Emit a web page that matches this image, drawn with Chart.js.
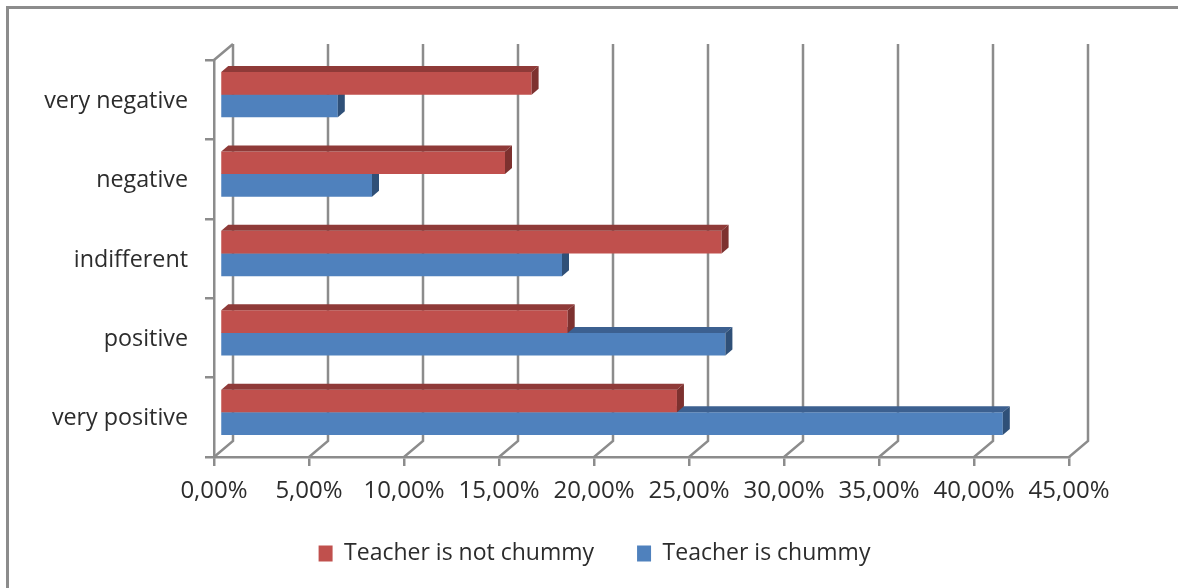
<!DOCTYPE html>
<html>
<head>
<meta charset="utf-8">
<style>
html, body { margin: 0; padding: 0; background: #fff; overflow: hidden; }
#frame { position: absolute; left: 6px; top: 6px; width: 1172px; height: 582px; border-left: 3px solid #8c8c8c; border-top: 3px solid #8c8c8c; box-sizing: border-box; }
canvas { position: absolute; left: 0; top: 0; }
</style>
<script src="https://cdn.jsdelivr.net/npm/chart.js@4"></script>
</head>
<body>
<div id="frame"></div>
<canvas id="chart" width="1178" height="588"></canvas>
<script>
const categories = ['very negative', 'negative', 'indifferent', 'positive', 'very positive'];
const notChummy = [16.4, 15.0, 26.4, 18.3, 24.05];
const chummy = [6.2, 8.0, 18.0, 26.6, 41.2];
const xTickLabels = ['0,00%', '5,00%', '10,00%', '15,00%', '20,00%', '25,00%', '30,00%', '35,00%', '40,00%', '45,00%'];

const axisColor = '#8c8c8c';
const textColor = '#2c2c2c';
const fontFamily = '"Open Sans", "Noto Sans", sans-serif';

// darker faces of the fake 3d bars
const faces = [
    { top: '#8f3a38', side: '#7d312f' },
    { top: '#3c6090', side: '#2f5078' }
];

// back wall of the chart: grid lines sit up and to the right of the axis
const wallPlugin = {
    id: 'wall',
    beforeDatasetsDraw(chart) {
        const { ctx, chartArea, scales } = chart;
        const dx = 19, dy = 16;
        ctx.save();
        ctx.strokeStyle = axisColor;
        ctx.lineWidth = 2.5;
        scales.x.ticks.forEach((t, i) => {
            const x = scales.x.getPixelForTick(i);
            ctx.beginPath();
            ctx.moveTo(x, chartArea.bottom);
            ctx.lineTo(x + dx, chartArea.bottom - dy);
            ctx.lineTo(x + dx, chartArea.top - dy);
            ctx.stroke();
        });
        ctx.beginPath();
        ctx.moveTo(chartArea.left, chartArea.top);
        ctx.lineTo(chartArea.left + dx, chartArea.top - dy);
        ctx.stroke();
        ctx.restore();
    }
};

// bars stand in the middle of the depth, so move them off the axis and add top + end faces
const depthPlugin = {
    id: 'depth',
    beforeDatasetDraw(chart) {
        chart.ctx.save();
        chart.ctx.translate(6, -5);
    },
    afterDatasetDraw(chart, args) {
        const { ctx } = chart;
        const dx = 7, dy = 6;
        const face = faces[args.index];
        args.meta.data.forEach(bar => {
            const top = bar.y - bar.height / 2;
            const bottom = bar.y + bar.height / 2;
            ctx.fillStyle = face.top;
            ctx.beginPath();
            ctx.moveTo(bar.base, top);
            ctx.lineTo(bar.base + dx, top - dy);
            ctx.lineTo(bar.x + dx, top - dy);
            ctx.lineTo(bar.x, top);
            ctx.closePath();
            ctx.fill();
            ctx.fillStyle = face.side;
            ctx.beginPath();
            ctx.moveTo(bar.x, top);
            ctx.lineTo(bar.x + dx, top - dy);
            ctx.lineTo(bar.x + dx, bottom - dy);
            ctx.lineTo(bar.x, bottom);
            ctx.closePath();
            ctx.fill();
        });
        ctx.restore();
    }
};

// legend is not centred on the canvas in the original
const legendShift = {
    id: 'legendShift',
    afterLayout(chart) {
        chart.legend.left += 60;
        chart.legend.right += 60;
        chart.legend.top -= 13;
        chart.legend.bottom -= 13;
    }
};

new Chart(document.getElementById('chart').getContext('2d'), {
    type: 'bar',
    data: {
        labels: categories,
        datasets: [{
            label: 'Teacher is not chummy',
            data: notChummy,
            backgroundColor: '#c0504d',
            categoryPercentage: 0.57,
            barPercentage: 1,
            clip: false
        }, {
            label: 'Teacher is chummy',
            data: chummy,
            backgroundColor: '#4f81bd',
            categoryPercentage: 0.57,
            barPercentage: 1,
            clip: false
        }]
    },
    options: {
        indexAxis: 'y',
        responsive: false,
        animation: false,
        layout: {
            padding: { left: 0, right: 109, top: 60, bottom: 0 }
        },
        scales: {
            x: {
                min: 0,
                max: 45,
                afterFit: s => { s.height = 55; },
                afterBuildTicks: s => { s.ticks = xTickLabels.map((_, i) => ({ value: i * 5 })); },
                ticks: {
                    callback: (v, i) => xTickLabels[i],
                    color: textColor,
                    font: { family: fontFamily, size: 24 },
                    padding: 11,
                    maxRotation: 0,
                    autoSkip: false
                },
                border: { color: axisColor, width: 2.5 },
                grid: { drawOnChartArea: false, color: axisColor, lineWidth: 2.5, tickLength: 9 }
            },
            y: {
                afterFit: s => { s.width = 214; },
                ticks: {
                    color: textColor,
                    font: { family: fontFamily, size: 23.3 },
                    padding: 17,
                    labelOffset: 1.5
                },
                border: { color: axisColor, width: 2.5 },
                grid: { drawOnChartArea: false, color: axisColor, lineWidth: 2.5, tickLength: 9 }
            }
        },
        plugins: {
            legend: {
                position: 'bottom',
                labels: {
                    color: textColor,
                    font: { family: fontFamily, size: 23 },
                    boxWidth: 14,
                    boxHeight: 16,
                    padding: 43
                }
            },
            tooltip: { enabled: false }
        }
    },
    plugins: [wallPlugin, depthPlugin, legendShift]
});
</script>
</body>
</html>
